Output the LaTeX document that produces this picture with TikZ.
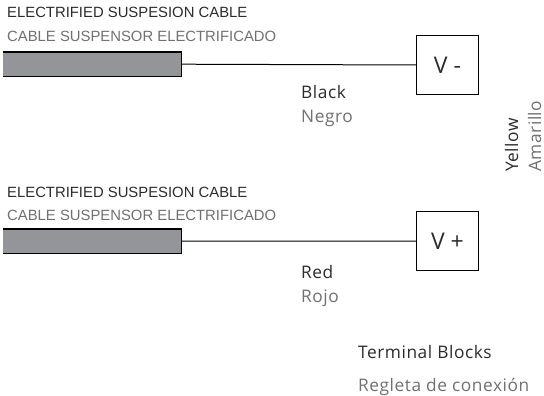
\documentclass[tikz,border=0pt]{standalone}
\usepackage{fontspec}
\setmainfont{Liberation Sans}
\newfontfamily\plex[LetterSpace=3.2]{Open Sans}
\newfontfamily\plexbig{Open Sans}
\definecolor{darktxt}{HTML}{2B2B2B}
\definecolor{greytxt}{HTML}{707070}
\definecolor{cablefill}{HTML}{939598}
\tikzset{
  capsdark/.style={anchor=base west,inner sep=0pt,text=darktxt,font=\fontsize{14.85}{16}\selectfont},
  capsgrey/.style={capsdark,text=greytxt},
  labdark/.style={anchor=base west,inner sep=0pt,text=darktxt,font=\plex\fontsize{17.3}{19}\selectfont},
  labgrey/.style={labdark,text=greytxt},
  cablebody/.style={fill=cablefill,draw=none,minimum width=178pt,minimum height=24pt,inner sep=0pt,anchor=north west},
  cableedge/.style={draw=black,line width=1.6pt},
  wire/.style={draw=black,line width=1pt},
  termbox/.style={draw=black,line width=1pt,minimum width=62pt,minimum height=59pt,inner sep=0pt,anchor=north west,text=darktxt,font=\plexbig\fontsize{23}{25}\selectfont},
}
\begin{document}
\begin{tikzpicture}[x=1pt,y=-1pt]
\useasboundingbox (0,0) rectangle (544,396);
\node[capsdark] (t1) at (7,18) {ELECTRIFIED SUSPESION CABLE};
\node[capsgrey] (s1) at (7,42) {CABLE SUSPENSOR ELECTRIFICADO};
\node[cablebody] (c1) at (3,52) {};
\draw[cableedge] (c1.north west) -- (c1.north east) -- (c1.south east) -- (c1.south west);
\node[termbox] (vm) at (416,35) {V -};
\draw[wire] (c1.east) -- (vm.west);
\node[labdark] (black) at (301,99) {Black};
\node[labgrey] (negro) at (301,123) {Negro};
\node[labdark,rotate=90] (yellow) at (518,172) {Yellow};
\node[labgrey,rotate=90] (amarillo) at (541,172) {Amarillo};
\node[capsdark] (t2) at (7,197) {ELECTRIFIED SUSPESION CABLE};
\node[capsgrey] (s2) at (7,220) {CABLE SUSPENSOR ELECTRIFICADO};
\node[cablebody] (c2) at (3,229) {};
\draw[cableedge] (c2.north west) -- (c2.north east) -- (c2.south east) -- (c2.south west);
\node[termbox] (vp) at (416,211) {V +};
\draw[wire] (c2.east) -- (vp.west);
\node[labdark] (red) at (301,278) {Red};
\node[labgrey] (rojo) at (301,302) {Rojo};
\node[labdark] (tb) at (358,358) {Terminal Blocks};
\node[labgrey] (rc) at (358,391) {Regleta de conexión};
\end{tikzpicture}
\end{document}
